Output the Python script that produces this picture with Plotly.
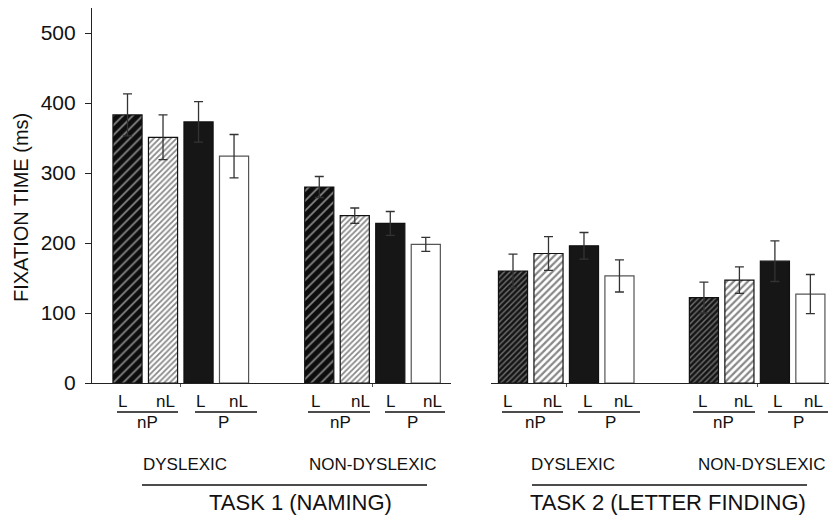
import plotly.graph_objects as go

# ---------------- data ----------------
conditions = ["L nP", "nL nP", "L P", "nL P"]
groups = ["DYSLEXIC", "NON-DYSLEXIC"]

t1_dys = [383, 351, 373, 324]
t1_dys_err = [30, 32, 29, 31]
t1_nondys = [280, 239, 228, 198]
t1_nondys_err = [15, 11, 17, 10]

t2_dys = [160, 185, 196, 153]
t2_dys_err = [24, 24, 19, 23]
t2_nondys = [122, 147, 174, 127]
t2_nondys_err = [22, 19, 29, 28]

y_ticks = [0, 100, 200, 300, 400, 500]

# ---------------- layout constants ----------------
OFF = 8                      # page body margin of the browser
W, H = 837 - OFF, 520 - OFF
L_M, R_M, T_M = 92 - OFF, 0, 8 - OFF
B_M = H - (383 - OFF)
PW, PH = W - L_M - R_M, H - T_M - B_M
FONT = "Liberation Sans, Arial, sans-serif"
INK = "#111111"


def px(xp):
    # reference-window pixel x -> paper coordinate
    return (xp - OFF - L_M) / PW


def py(yp):
    # reference-window pixel y -> paper coordinate
    return (H - B_M - (yp - OFF)) / PH


tasks = [
    dict(axis="x", starts=[1.0, 6.4], dys=t1_dys, dys_err=t1_dys_err,
         nondys=t1_nondys, nondys_err=t1_nondys_err,
         patt=[dict(shape="/", bgcolor="#0d0d0d", fgcolor="#ffffff", size=7, solidity=0.25),
               dict(shape="/", bgcolor="#ffffff", fgcolor="#111111", size=4, solidity=0.45)]),
    dict(axis="x2", starts=[0.62, 6.0], dys=t2_dys, dys_err=t2_dys_err,
         nondys=t2_nondys, nondys_err=t2_nondys_err,
         patt=[dict(shape="/", bgcolor="#141414", fgcolor="#d0d0d0", size=4, solidity=0.35),
               dict(shape="/", bgcolor="#ffffff", fgcolor="#111111", size=5, solidity=0.45)]),
]

fig = go.Figure()
for t in tasks:
    for ci, cond in enumerate(conditions):
        xs = [t["starts"][0] + ci, t["starts"][1] + ci]
        ys = [t["dys"][ci], t["nondys"][ci]]
        es = [t["dys_err"][ci], t["nondys_err"][ci]]
        if ci < 2:
            marker = dict(color=t["patt"][ci]["bgcolor"], pattern=t["patt"][ci],
                          line=dict(color=INK, width=1.2))
        elif ci == 2:
            marker = dict(color="#161616", line=dict(color=INK, width=1.2))
        else:
            marker = dict(color="#ffffff", line=dict(color="#555555", width=1.2))
        fig.add_trace(go.Bar(
            x=xs, y=ys, width=0.82, xaxis=t["axis"], yaxis="y",
            marker=marker, name=cond,
            error_y=dict(type="data", array=es, visible=True, color="#333333",
                         thickness=1.3, width=4.5),
            hoverinfo="x+y",
        ))

ann = []
shapes = []


def text(x, y, s, size):
    ann.append(dict(x=px(x), y=py(y), xref="paper", yref="paper", text=s,
                    showarrow=False, xanchor="center", yanchor="middle",
                    font=dict(family=FONT, size=size, color=INK)))


def hline(x0, x1, y, w=1.5):
    shapes.append(dict(type="line", xref="paper", yref="paper",
                       x0=px(x0), x1=px(x1), y0=py(y), y1=py(y),
                       line=dict(color=INK, width=w)))


# sub labels (L / nL over nP / P)
pairs = [
    # (L x, nL x, sub label x, line x0, line x1, sub label)
    (122, 165, 147, 117, 178, "nP"), (200, 238, 223, 195, 257, "P"),
    (315, 360, 340, 308, 370, "nP"), (390, 432, 412, 385, 445, "P"),
    (508, 552, 535, 502, 563, "nP"), (587, 623, 610, 578, 640, "P"),
    (702, 743, 723, 693, 755, "nP"), (777, 813, 798, 768, 828, "P"),
]
for lx, nlx, sx, x0, x1, lab in pairs:
    text(lx, 401, "L", 17)
    text(nlx, 401, "nL", 17)
    hline(x0, x1, 412)
    text(sx, 422, lab, 17)

# group labels
text(185, 465, groups[0], 17)
text(373, 465, groups[1], 17)
text(573, 465, groups[0], 17)
text(762, 465, groups[1], 17)
hline(142, 427, 485)
hline(532, 807, 485)
text(300, 502, "TASK 1 (NAMING)", 22)
text(668, 502, "TASK 2 (LETTER FINDING)", 22)

# y title
ann.append(dict(x=px(21), y=py(208), xref="paper", yref="paper",
                text="FIXATION TIME (ms)", textangle=-90, showarrow=False,
                xanchor="center", yanchor="middle",
                font=dict(family=FONT, size=20, color=INK)))

xcommon = dict(showline=True, linecolor="#222222", linewidth=1.2, showgrid=False,
               zeroline=False, ticks="outside", ticklen=3, tickcolor="#555555",
               showticklabels=False, fixedrange=True)

fig.update_layout(
    width=W, height=H,
    margin=dict(l=L_M, r=R_M, t=T_M, b=B_M, pad=0),
    paper_bgcolor="white", plot_bgcolor="white",
    showlegend=False, barmode="overlay",
    font=dict(family=FONT, color=INK),
    xaxis=dict(domain=[0, px(451)], range=[0, 10.11], tickvals=[2.5, 7.9],
               anchor="y", **xcommon),
    xaxis2=dict(domain=[px(491), 1], range=[0, 9.75], tickvals=[2.12, 7.5],
                anchor="y", **xcommon),
    yaxis=dict(range=[0, PH / 0.7], tickvals=y_ticks,
               ticks="outside", ticklen=6, tickcolor="#222222",
               showline=True, linecolor="#222222", linewidth=1.2,
               showgrid=False, zeroline=False, anchor="x",
               ticklabelstandoff=5,
               tickfont=dict(family=FONT, size=21, color=INK), fixedrange=True),
    annotations=ann, shapes=shapes,
)

fig.write_html("out.html")
